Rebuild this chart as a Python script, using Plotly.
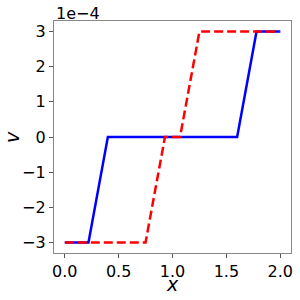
import plotly.graph_objects as go

x_blue = [0.0, 0.22, 0.40, 1.60, 1.78, 2.0]
v_blue = [-3e-4, -3e-4, 0.0, 0.0, 3e-4, 3e-4]
x_red = [0.0, 0.75, 0.93, 1.07, 1.25, 2.0]
v_red = [-3e-4, -3e-4, 0.0, 0.0, 3e-4, 3e-4]

y_tickvals = [-3e-4, -2e-4, -1e-4, 0, 1e-4, 2e-4, 3e-4]
y_ticktext = ["\u22123", "\u22122", "\u22121", "0", "1", "2", "3"]
x_tickvals = [0.0, 0.5, 1.0, 1.5, 2.0]
x_ticktext = ["0.0", "0.5", "1.0", "1.5", "2.0"]

fig = go.Figure()
fig.add_trace(go.Scatter(x=x_blue, y=v_blue, mode="lines",
                         line=dict(color="blue", width=2.5)))
fig.add_trace(go.Scatter(x=x_red, y=v_red, mode="lines",
                         line=dict(color="red", width=2.5, dash="9px,4px")))

font = dict(family="DejaVu Sans", size=16, color="black")
tfont = dict(family="DejaVu Sans", size=19, color="black")
axcommon = dict(showgrid=False, zeroline=False, showline=True, linecolor="#888",
                linewidth=1.2, mirror=True, ticks="outside", ticklen=4,
                tickcolor="#555", tickwidth=1, tickfont=font, automargin=False)
fig.update_layout(
    width=300, height=300, showlegend=False,
    margin=dict(l=54, r=9, t=21, b=47),
    plot_bgcolor="white", paper_bgcolor="white",
    xaxis=dict(range=[-0.1, 2.1], tickvals=x_tickvals, ticktext=x_ticktext, **axcommon),
    yaxis=dict(range=[-3.3e-4, 3.3e-4], tickvals=y_tickvals, ticktext=y_ticktext, **axcommon),
    annotations=[
        dict(text="1e\u22124", xref="paper", yref="paper", x=0, y=1,
             xanchor="left", yanchor="bottom", showarrow=False, font=font, yshift=-4),
        dict(text="<i>x</i>", xref="paper", yref="paper", x=0.5, y=0,
             xanchor="center", yanchor="top", showarrow=False, font=tfont, yshift=-18),
        dict(text="<i>v</i>", xref="paper", yref="paper", x=0, y=0.5,
             xanchor="right", yanchor="middle", showarrow=False, font=tfont,
             textangle=-90, xshift=-29),
    ],
)
fig.write_html("out.html", config={"displayModeBar": False},
               post_script="document.body.style.margin='0';document.body.style.padding='0';")
